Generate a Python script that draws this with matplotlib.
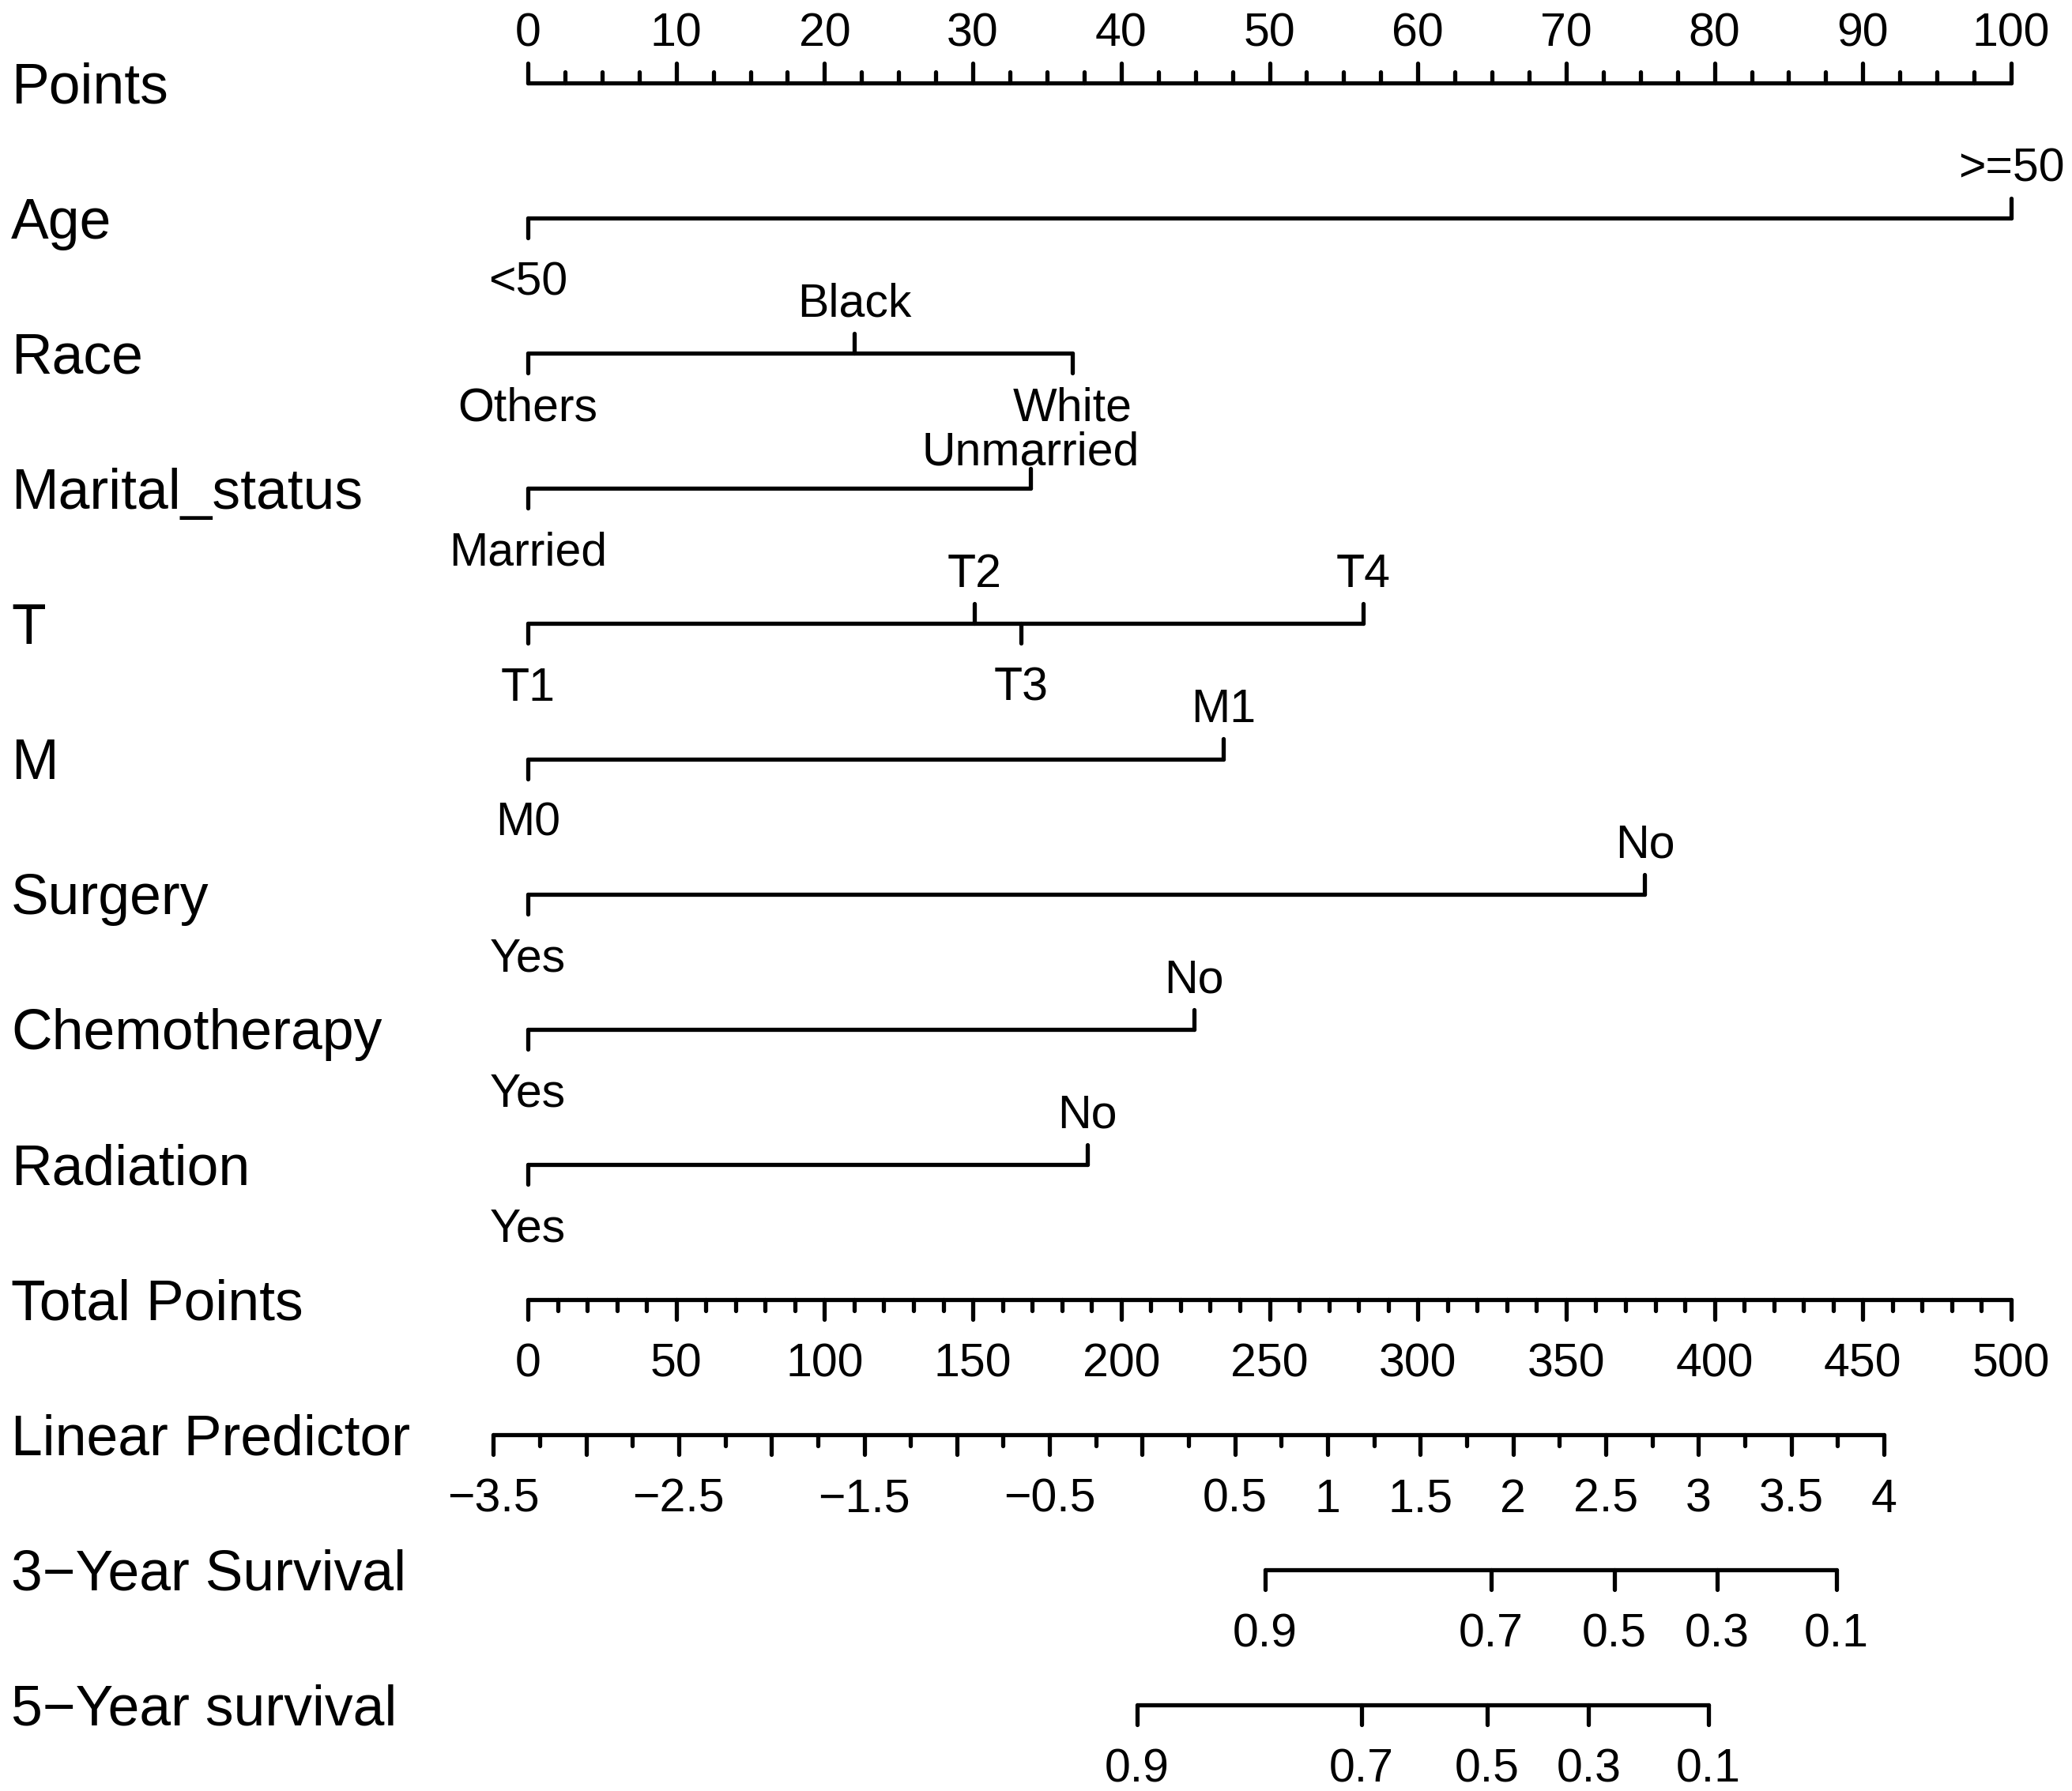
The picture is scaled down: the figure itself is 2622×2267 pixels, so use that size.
import matplotlib
matplotlib.use("Agg")
import matplotlib.pyplot as plt
import numpy as np

plt.rcParams['font.family'] = ['Liberation Sans', 'DejaVu Sans']

# ---------------- data ----------------
row_labels = ["Points", "Age", "Race", "Marital_status", "T", "M", "Surgery",
              "Chemotherapy", "Radiation", "Total Points", "Linear Predictor",
              "3\u2212Year Survival", "5\u2212Year survival"]

points_ticks = [0, 10, 20, 30, 40, 50, 60, 70, 80, 90, 100]
points_minor_step = 2.5

age_levels = ["<50", ">=50"]
age_points = [0, 100]
race_levels = ["Others", "Black", "White"]
race_points = [0, 22.0, 36.7]
marital_levels = ["Married", "Unmarried"]
marital_points = [0, 33.9]
t_levels = ["T1", "T2", "T3", "T4"]
t_points = [0, 30.1, 33.25, 56.3]
m_levels = ["M0", "M1"]
m_points = [0, 46.9]
surgery_levels = ["Yes", "No"]
surgery_points = [0, 75.3]
chemo_levels = ["Yes", "No"]
chemo_points = [0, 44.9]
radiation_levels = ["Yes", "No"]
radiation_points = [0, 37.7]

total_ticks = [0, 50, 100, 150, 200, 250, 300, 350, 400, 450, 500]
total_minor_step = 10

lp_min, lp_max = -3.5, 4.0
lp_labels = [-3.5, -2.5, -1.5, -0.5, 0.5, 1, 1.5, 2, 2.5, 3, 3.5, 4]
lp_major_step = 0.5
lp_minor_step = 0.25
lp_zero_total = 207.1      # total points at linear predictor 0
total_per_lp = 62.5        # total points per unit of linear predictor

surv_labels = ["0.9", "0.7", "0.5", "0.3", "0.1"]
surv3_lp = [0.663, 1.880, 2.545, 3.100, 3.745]
surv5_lp = [-0.028, 1.183, 1.860, 2.408, 3.055]

# ---------------- layout ----------------
W, H, DPI = 2622, 2267, 100
fig = plt.figure(figsize=(W / DPI, H / DPI), dpi=DPI)
ax = fig.add_axes([0, 0, 1, 1])
ax.set_axis_off()

x0_px, x100_px = 668, 2545
px_per_pt = (x100_px - x0_px) / 100.0
row0_px, row_step_px = 105, 171.1
ax.set_xlim(-x0_px / px_per_pt, (W - x0_px) / px_per_pt)
ax.set_ylim((H - row0_px) / row_step_px, -row0_px / row_step_px)

py = 1.0 / row_step_px          # one pixel in y data units
tick_major = 25 * py
tick_minor = 14 * py
lab_above = -62 * py
lab_below = 82 * py
# rows whose level labels were squeezed to avoid colliding with neighbours
below_nudge = {"Race": -12 * py}
above_nudge = {"Marital_status": 17 * py}
row_lab_shift = 7 * py
lw = 3.8
fs_row = 51.5
fs_val = 42.5
col = "black"


def seg(xa, xb, ya, yb):
    ax.plot([xa, xb], [ya, yb], color=col, lw=lw, solid_capstyle="round")


def total_to_x(t):
    return np.asarray(t, dtype=float) / 5.0


def lp_to_x(v):
    return total_to_x(lp_zero_total + total_per_lp * np.asarray(v, dtype=float))


for i, lab in enumerate(row_labels):
    ax.text(-x0_px / px_per_pt + 14 / px_per_pt, i + row_lab_shift, lab,
            fontsize=fs_row, ha="left", va="center", color=col)

# Points axis (row 0): ticks up, labels above
r = 0
seg(points_ticks[0], points_ticks[-1], r, r)
for v in np.arange(points_ticks[0], points_ticks[-1] + 1e-9, points_minor_step):
    major = abs(v % 10) < 1e-9
    seg(v, v, r, r - (tick_major if major else tick_minor))
for v in points_ticks:
    ax.text(v, r + lab_above, str(v), fontsize=fs_val, ha="center", va="center")

# Variable rows
variables = [(age_levels, age_points), (race_levels, race_points),
             (marital_levels, marital_points), (t_levels, t_points),
             (m_levels, m_points), (surgery_levels, surgery_points),
             (chemo_levels, chemo_points), (radiation_levels, radiation_points)]
for k, (levels, pts) in enumerate(variables):
    r = k + 1
    name = row_labels[r]
    order = np.argsort(pts)
    seg(min(pts), max(pts), r, r)
    for j, idx in enumerate(order):
        p = pts[idx]
        below = (j % 2 == 0)
        d = 1 if below else -1
        seg(p, p, r, r + d * tick_major)
        if below:
            off = lab_below + below_nudge.get(name, 0.0)
        else:
            off = lab_above + above_nudge.get(name, 0.0)
        ax.text(p, r + off, levels[idx], fontsize=fs_val,
                ha="center", va="center")

# Total points (row 9): ticks down, labels below
r = 9
seg(total_to_x(total_ticks[0]), total_to_x(total_ticks[-1]), r, r)
for v in np.arange(total_ticks[0], total_ticks[-1] + 1e-9, total_minor_step):
    major = abs(v % 50) < 1e-9
    xv = total_to_x(v)
    seg(xv, xv, r, r + (tick_major if major else tick_minor))
for v in total_ticks:
    ax.text(total_to_x(v), r + lab_below, str(v), fontsize=fs_val,
            ha="center", va="center")

# Linear predictor (row 10)
r = 10
seg(lp_to_x(lp_min), lp_to_x(lp_max), r, r)
for v in np.arange(lp_min, lp_max + 1e-9, lp_minor_step):
    major = abs((v / lp_major_step) - round(v / lp_major_step)) < 1e-9
    xv = lp_to_x(v)
    seg(xv, xv, r, r + (tick_major if major else tick_minor))
for v in lp_labels:
    s = ("%g" % v).replace("-", "\u2212")
    ax.text(lp_to_x(v), r + lab_below, s, fontsize=fs_val, ha="center", va="center")

# Survival rows
for r, lps in ((11, surv3_lp), (12, surv5_lp)):
    seg(lp_to_x(lps[0]), lp_to_x(lps[-1]), r, r)
    for v, s in zip(lps, surv_labels):
        xv = lp_to_x(v)
        seg(xv, xv, r, r + tick_major)
        ax.text(xv, r + lab_below, s, fontsize=fs_val, ha="center", va="center")

fig.savefig("out.png", dpi=DPI, facecolor="white")
